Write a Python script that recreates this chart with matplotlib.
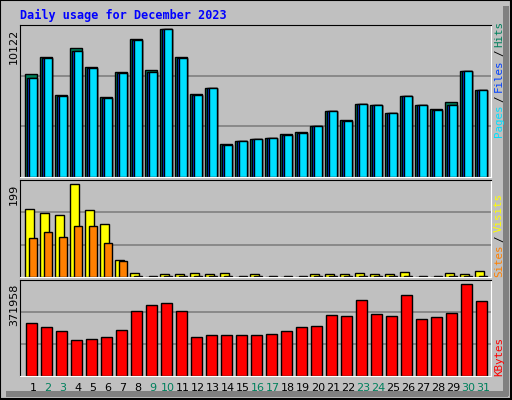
import matplotlib
matplotlib.use("Agg")
import matplotlib.pyplot as plt
from matplotlib.patches import Rectangle
import numpy as np

days = list(range(1, 32))
weekend = [2, 3, 9, 10, 16, 17, 23, 24, 30, 31]
hits = [7044, 8207, 5608, 8822, 7523, 5471, 7181, 9438, 7318, 10122, 8207, 5676, 6087, 2257, 2462,
        2599, 2667, 2941, 3078, 3488, 4514, 3898, 4993, 4924, 4377, 5540, 4924, 4650, 5129, 7249, 5950]
files = [6770, 8140, 5540, 8620, 7450, 5400, 7110, 9370, 7180, 10122, 8140, 5600, 6087, 2190, 2462,
         2599, 2667, 2870, 3010, 3488, 4514, 3830, 4993, 4924, 4377, 5540, 4924, 4580, 4920, 7249, 5950]
pages = files
visits = [146, 137, 133, 199, 144, 114, 36, 8, 1, 6, 6, 8, 6, 8, 1, 6, 1, 1, 1, 6, 6, 6, 8, 6, 6, 10, 1, 1, 8, 6, 12]
sites = [83, 96, 85, 109, 109, 73, 34] + [3] * 24
kbytes = [214290, 198100, 181940, 145550, 149600, 157680, 185980, 262800, 287060, 295140, 262800,
          157680, 165770, 165770, 165770, 165770, 169810, 181940, 198100, 202150, 246630, 242580,
          307270, 250670, 242580, 327490, 230450, 238540, 254710, 371958, 303230]

W, H = 512, 400
bg = "#C0C0C0"
fig = plt.figure(figsize=(W / 100, H / 100), dpi=100, facecolor=bg)
mono = "DejaVu Sans Mono"

# bevel frame
ov = fig.add_axes([0, 0, 1, 1]); ov.set_xlim(0, W); ov.set_ylim(H, 0); ov.axis("off")
ov.add_patch(Rectangle((0, 0), W - 1, H - 1, fill=False, ec="black", lw=1.5))
ov.add_patch(Rectangle((W - 9, 6), 6, H - 10, color="#808080", lw=0))
ov.add_patch(Rectangle((6, H - 9), W - 10, 6, color="#808080", lw=0))
ov.text(20, 15, "Daily usage for December 2023", color="#0000FF", fontsize=8.5,
        fontweight="bold", family=mono, va="center")

def panel(y0, y1):
    ax = fig.add_axes([20 / W, 1 - y1 / H, 471 / W, (y1 - y0) / H], facecolor=bg)
    ax.set_xlim(-0.113, 31.287)
    ax.set_xticks([]); ax.set_yticks([])
    for s in ("top", "left"):
        ax.spines[s].set_color("black")
    for s in ("bottom", "right"):
        ax.spines[s].set_color("white")
    return ax

x = np.array(days, dtype=float)
kw = dict(align="edge", edgecolor="black", linewidth=1)

ax1 = panel(25, 177)
top1 = 10122 * 152 / 148
ax1.set_ylim(0, top1)
for g in (top1 / 3, 2 * top1 / 3):
    ax1.axhline(g, color="#808080", lw=1.2, zorder=0)
ax1.bar(x - 0.78, hits, 0.78, color="#00805C", **kw)
ax1.bar(x - 0.65, files, 0.65, color="#0040FF", **kw)
ax1.bar(x - 0.52, pages, 0.52, color="#00E0FF", **kw)

ax2 = panel(180, 277)
top2 = 199 * 97 / 92.5
ax2.set_ylim(0, top2)
for g in (top2 / 3, 2 * top2 / 3):
    ax2.axhline(g, color="#808080", lw=1.2, zorder=0)
ax2.bar(x - 0.78, visits, 0.6, color="#FFFF00", **kw)
ax2.bar(x - 0.52, sites, 0.52, color="#FF8000", **kw)

ax3 = panel(280, 376)
top3 = 371958 * 96 / 92
ax3.set_ylim(0, top3)
for g in (top3 / 3, 2 * top3 / 3):
    ax3.axhline(g, color="#808080", lw=1.2, zorder=0)
ax3.bar(x - 0.71, kbytes, 0.71, color="#FF0000", **kw)
for d in days:
    ax3.text(d - 0.25, -0.13, str(d), transform=ax3.get_xaxis_transform(), ha="center", va="center",
             fontsize=8, color="#00805C" if d in weekend else "black")

# max labels
for ytop, txt in ((29, "10122"), (184, "199"), (284, "371958")):
    ov.text(14, ytop, txt, rotation=90, ha="center", va="top", fontsize=8)

# right legends (bottom to top), spaced by measured text height
renderer = fig.canvas.get_renderer()
def vlegend(ybottom, parts):
    y = ybottom
    for t, c in parts:
        gap = 3 if t == "/" else 0
        y -= gap
        tt = ov.text(499, y, t, rotation=90, ha="center", va="bottom", fontsize=7.8,
                     family=mono, color=c)
        bb = tt.get_window_extent(renderer)
        y -= bb.height + gap
vlegend(137, [("Pages", "#00E0FF"), ("/", "black"), ("Files", "#0040FF"), ("/", "black"), ("Hits", "#00805C")])
vlegend(277, [("Sites", "#FF8000"), ("/", "black"), ("Visits", "#FFFF00")])
vlegend(376, [("KBytes", "#FF0000")])

fig.savefig("out.png", dpi=100, facecolor=bg)
